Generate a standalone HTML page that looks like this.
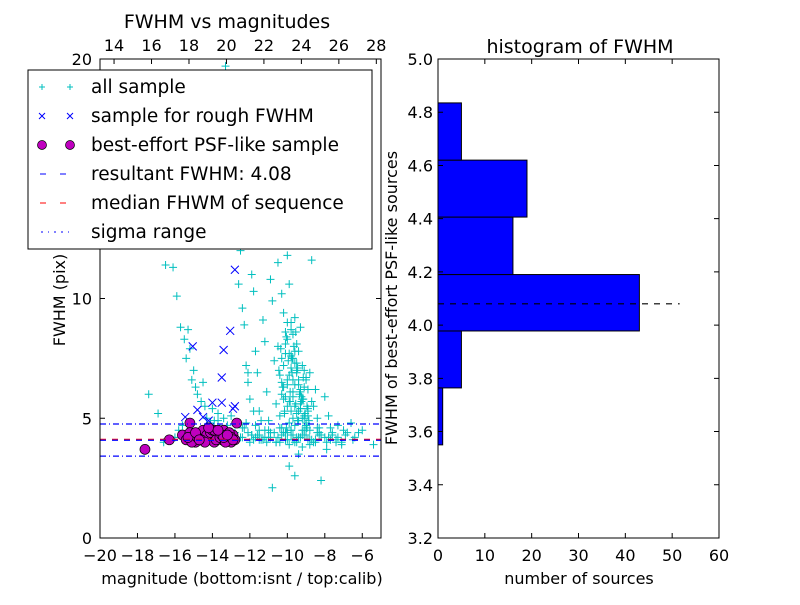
<!DOCTYPE html>
<html><head><meta charset="utf-8"><style>
body{margin:0;background:#fff}
svg{font-family:"DejaVu Sans","Liberation Sans",sans-serif}
</style></head><body>
<svg id="c" width="800" height="600" xmlns="http://www.w3.org/2000/svg"></svg>
<script>
// ---------- left scatter data (magnitude, FWHM) ----------
const allMag = [-17.4,-16.9,-16.5,-16.1,-15.9,-15.7,-15.5,-15.4,-15.3,-15.2,-15.1,-15.0,-14.9,-14.8,-14.6,-14.5,-14.4,-14.3,-14.1,-14.0,-13.9,-13.7,-13.6,-13.4,-13.2,-13.0,-12.8,-12.6,-12.5,-12.4,-12.3,-12.2,-12.1,-12.0,-11.9,-11.8,-11.7,-11.6,-11.5,-11.4,-11.3,-11.2,-11.1,-11.0,-10.9,-10.8,-10.7,-10.6,-10.5,-10.5,-10.4,-10.4,-10.3,-10.3,-10.2,-10.2,-10.1,-10.1,-10.0,-10.0,-10.0,-9.9,-9.9,-9.9,-9.8,-9.8,-9.8,-9.7,-9.7,-9.7,-9.6,-9.6,-9.6,-9.5,-9.5,-9.5,-9.4,-9.4,-9.4,-9.3,-9.3,-9.3,-9.2,-9.2,-9.1,-9.1,-9.0,-9.0,-8.9,-8.9,-8.8,-8.7,-8.6,-8.5,-8.4,-8.3,-8.2,-8.0,-7.8,-7.6,-7.3,-7.0,-6.6,-6.2,-5.4,
-16.6,-16.0,-15.8,-15.6,-15.4,-15.1,-14.7,-14.2,-13.8,-13.5,-13.1,-12.7,-12.4,-12.0,-11.6,-11.3,-11.0,-10.7,-10.4,-10.1,-9.8,-9.5,-9.2,-8.9,-8.6,-8.3,-8.0,-7.7,-7.4,-7.1,-6.8,-6.4,-6.0,-11.9,-11.5,-11.2,-10.9,-10.6,-10.3,-10.0,-9.7,-9.4,-9.1,-8.8,-8.5,-10.2,-9.9,-9.6,-9.3,-9.0,-10.1,-9.8,-9.5,-9.2,-12.2,-11.8,-11.4,-13.3,-15.0,-14.4,-13.0,-12.5,-11.5,-10.8,-9.9,-9.6,-9.3,-10.0,-9.7,-9.4,-8.8,-8.4,-8.2,-7.9,-12.1,-11.7,-10.2,-9.1,-8.7,-13.7,
-10.4,-10.3,-10.2,-10.1,-10.0,-9.9,-9.8,-9.7,-9.6,-9.5,-9.4,-9.3,-9.2,-9.1,-9.0,-8.9,-10.35,-10.25,-10.15,-10.05,-9.95,-9.85,-9.75,-9.65,-9.55,-9.45,-9.35,-9.25,-9.15,-9.05,-8.95,-8.85,-10.3,-10.1,-9.9,-9.7,-9.5,-9.3,-9.1,-8.9,-10.2,-10.0,-9.8,-9.6,-9.4,-9.2,-9.0,-10.45,-10.15,-9.85,-9.55,-9.25,-8.95,-10.05,-9.75,-9.45,-9.15,
-12.4,-12.1,-11.8,-11.5,-11.2,-10.9,-10.6,-10.3,-10.0,-9.7,-9.4,-9.1,-8.8,-8.5,-8.2,-7.9,-7.6,-7.3,-12.3,-11.9,-11.4,-11.0,-10.5,-10.1,-9.6,-9.2,-8.7,-8.3,-7.8,-7.4,-6.9,-6.5,-11.7,-11.1,-10.4,-9.8,-9.0,-8.4,-7.7,-7.1];
const allFwhm = [6.0,5.2,11.4,11.3,10.1,8.8,8.3,7.5,8.7,7.9,6.6,7.0,6.3,6.0,5.7,6.5,5.5,5.0,4.8,5.4,4.9,5.2,4.6,5.0,4.7,5.1,4.4,10.6,12.0,9.6,8.9,7.2,6.5,5.8,11.0,10.3,7.8,6.9,5.3,12.3,9.1,8.2,6.1,4.9,10.8,9.9,7.4,5.6,11.5,8.0,12.6,6.8,10.2,7.5,9.4,6.3,8.6,5.9,11.8,8.3,6.6,10.6,7.7,5.7,9.0,7.1,5.3,8.5,6.6,5.0,9.2,7.3,5.5,8.1,6.9,5.2,7.8,6.4,4.9,8.8,6.1,5.4,7.2,5.8,7.0,5.1,6.7,4.8,6.2,5.3,6.9,5.7,5.5,6.2,5.0,4.6,4.3,5.9,5.1,4.3,4.7,4.5,4.8,4.4,3.9,
4.0,4.2,4.5,4.7,4.3,4.1,4.4,4.2,4.5,4.3,4.1,4.2,4.6,4.0,4.3,4.1,4.2,4.4,4.0,4.1,4.3,4.2,4.5,4.1,4.0,4.3,4.2,4.6,4.1,3.9,4.4,4.2,4.5,4.3,4.1,4.2,4.4,4.0,4.6,4.1,4.3,4.2,4.5,4.1,4.0,4.4,3.9,4.7,4.2,4.3,4.1,4.5,4.0,3.8,4.8,5.3,4.9,19.7,4.4,4.0,4.3,4.2,4.5,2.1,3.0,2.6,5.6,6.4,7.5,3.5,3.9,4.4,2.4,3.7,6.9,4.2,13.1,12.5,11.6,4.9,
5.1,6.0,7.2,8.1,5.5,6.8,7.6,5.9,6.4,7.0,5.3,6.2,5.8,5.0,6.6,5.4,7.9,6.3,5.2,8.4,7.4,5.7,6.9,8.0,5.6,7.1,6.0,5.9,6.7,5.2,5.5,4.9,6.5,7.7,4.8,6.1,7.3,5.4,6.3,5.1,5.8,9.0,8.7,7.8,6.6,5.0,4.7,7.0,5.3,6.1,8.6,5.7,4.6,4.6,7.5,4.9,5.8,
4.2,4.4,4.1,4.3,4.5,4.2,4.0,4.3,4.4,4.1,4.2,4.3,4.5,4.1,4.3,4.0,4.4,4.2,4.6,4.3,4.1,4.5,4.2,4.4,4.0,4.3,4.1,4.4,4.2,4.0,4.3,4.1,4.7,4.0,4.6,4.5,4.7,4.6,4.1,4.0];
const roughMag = [-12.8,-13.05,-13.4,-15.05,-13.5,-14.0,-13.5,-12.9,-14.8,-14.5,-15.45,-14.2,-12.8];
const roughFwhm = [11.2,8.65,7.85,8.0,6.7,5.65,5.65,5.4,5.35,5.05,5.05,4.9,5.5];
const psfMag = [-17.6,-16.3,-15.2,-12.7,-15.6,-15.4,-15.2,-15.0,-14.9,-14.7,-14.5,-14.4,-14.2,-14.0,-13.9,-13.7,-13.5,-13.4,-13.2,-13.0,-12.9,-12.8,-15.1,-14.8,-14.3,-14.1,-13.8,-13.6,-13.3,-13.1,-14.6,-14.0,-13.5,-13.0,-15.3,-14.9,-14.4,-13.9,-13.4,-12.9,-14.2,-13.7,-14.7,-13.2];
const psfFwhm = [3.7,4.1,4.8,4.8,4.3,4.1,4.4,4.2,4.0,4.3,4.5,4.1,4.2,4.4,4.0,4.3,4.1,4.5,4.2,4.0,4.3,4.1,4.0,4.2,4.3,4.4,4.1,4.2,4.0,4.4,4.1,4.5,4.3,4.2,4.2,4.4,4.0,4.5,4.2,4.1,4.6,4.5,4.1,4.3];
const resultFwhm = 4.08, medianFwhm = 4.12, sigmaLo = 3.42, sigmaHi = 4.76;
const leftXTicks = [-20,-18,-16,-14,-12,-10,-8,-6];
const leftYTicks = [0,5,10,20];
const topTicks = [14,16,18,20,22,24,26,28];
// ---------- histogram data ----------
const binEdges = [3.55,3.764,3.978,4.19,4.406,4.62,4.835];
const binCounts = [1,5,43,16,19,5];
const histYTicks = ["3.2","3.4","3.6","3.8","4.0","4.2","4.4","4.6","4.8","5.0"];
const histXTicks = [0,10,20,30,40,50,60];
const histDashEnd = 51.6;

const svg = document.getElementById('c');
const NS = 'http://www.w3.org/2000/svg';
function mk(tag, attrs, parent){const e=document.createElementNS(NS,tag);for(const k in attrs)e.setAttribute(k,attrs[k]);(parent||svg).appendChild(e);return e;}
function txt(s,x,y,size,anchor,parent,rot){const t=mk('text',{x:x,y:y,'font-size':size,'text-anchor':anchor||'middle',fill:'#000'},parent);if(rot)t.setAttribute('transform','rotate(-90 '+x+' '+y+')');t.textContent=s;return t;}
const minus = v => String(v).replace('-','\u2212');

// left axes
const L={x0:100,x1:381,y0:59,y1:538};
const lx = m => L.x0 + (m+20)/15*(L.x1-L.x0);
const ly = f => L.y1 - f/20*(L.y1-L.y0);
const tx = v => L.x0 + (v-13.25)/15*(L.x1-L.x0);
const gL = mk('g',{});  
mk('rect',{x:L.x0,y:L.y0,width:L.x1-L.x0,height:L.y1-L.y0,fill:'#fff'},gL);
const clip = mk('clipPath',{id:'lc'},gL); mk('rect',{x:L.x0,y:L.y0,width:L.x1-L.x0,height:L.y1-L.y0},clip);
const pts = mk('g',{'clip-path':'url(#lc)'},gL);
 
for(let i=0;i<allMag.length;i++){const x=lx(allMag[i]),y=ly(allFwhm[i]);
  const p=mk('path',{d:`M${x-4} ${y}h8M${x} ${y-4}v8`,stroke:'#00bfbf','stroke-width':1},pts);
  }
for(let i=0;i<roughMag.length;i++){const x=lx(roughMag[i]),y=ly(roughFwhm[i]);
  const p=mk('path',{d:`M${x-4} ${y-4}l8 8M${x-4} ${y+4}l8 -8`,stroke:'#0000ff','stroke-width':1},pts);
  }
for(let i=0;i<psfMag.length;i++){
  const c=mk('circle',{cx:lx(psfMag[i]),cy:ly(psfFwhm[i]),r:5,fill:'#bf00bf',stroke:'#000','stroke-width':0.7},pts);
  }
const hl=(v,col,dash,name)=>{const l=mk('line',{x1:L.x0,x2:L.x1,y1:ly(v),y2:ly(v),stroke:col,'stroke-width':1.2,'stroke-dasharray':dash},pts);};
hl(medianFwhm,'#ff0000','6 6','median-line');
hl(resultFwhm,'#0000ff','6 6','result-line');
hl(sigmaHi,'#0000ff','6 3 1 3','sigma-high-line');
hl(sigmaLo,'#0000ff','6 3 1 3','sigma-low-line');
mk('rect',{x:L.x0,y:L.y0,width:L.x1-L.x0,height:L.y1-L.y0,fill:'none',stroke:'#000','stroke-width':1},gL);
leftXTicks.forEach(v=>{const x=lx(v);mk('path',{d:`M${x} ${L.y1}v-5`,stroke:'#000'},gL);txt(minus(v),x,561,16,'middle',gL);});
leftYTicks.forEach(v=>{const y=ly(v);mk('path',{d:`M${L.x0} ${y}h5M${L.x1} ${y}h-5`,stroke:'#000'},gL);txt(String(v),L.x0-8,y+6,16,'end',gL);});
topTicks.forEach(v=>{const x=tx(v);mk('path',{d:`M${x} ${L.y0}v5`,stroke:'#000'},gL);txt(String(v),x,51,16,'middle',gL);});
txt('FWHM vs magnitudes',227,28,19,'middle',gL);
txt('magnitude (bottom:isnt / top:calib)',242,584,16,'middle',gL);
txt('FWHM (pix)',65,300,16,'middle',gL,true);

// legend
const lg = mk('g',{});  
mk('rect',{x:28,y:70,width:344,height:179,fill:'#fff',stroke:'#000','stroke-width':1},lg);
const items=['all sample','sample for rough FWHM','best-effort PSF-like sample','resultant FWHM: 4.08','median FHWM of sequence','sigma range'];
items.forEach((s,i)=>{const y=87+i*29;const g=mk('g',{},lg);
  const a=42,b=70;
  if(i==0)[a,b].forEach(x=>mk('path',{d:`M${x-3} ${y}h6M${x} ${y-3}v6`,stroke:'#00bfbf'},g));
  if(i==1)[a,b].forEach(x=>mk('path',{d:`M${x-3} ${y-3}l6 6M${x-3} ${y+3}l6 -6`,stroke:'#0000ff'},g));
  if(i==2)[a,b].forEach(x=>mk('circle',{cx:x,cy:y,r:4.5,fill:'#bf00bf',stroke:'#000','stroke-width':0.7},g));
  if(i==3)mk('line',{x1:40,x2:72,y1:y,y2:y,stroke:'#0000ff','stroke-dasharray':'6 14 6'},g);
  if(i==4)mk('line',{x1:40,x2:72,y1:y,y2:y,stroke:'#ff0000','stroke-dasharray':'6 14 6'},g);
  if(i==5)mk('line',{x1:41,x2:72,y1:y,y2:y,stroke:'#0000ff','stroke-dasharray':'2 5 1 5 2 5'},g);
  txt(s,91,y+6,18.5,'start',g);});

// histogram
const R={x0:438,x1:719,y0:59,y1:538};
const hx = c => R.x0 + c/60*(R.x1-R.x0);
const hy = v => R.y1 - (v-3.2)/1.8*(R.y1-R.y0);
const gR = mk('g',{});  
mk('rect',{x:R.x0,y:R.y0,width:R.x1-R.x0,height:R.y1-R.y0,fill:'#fff'},gR);
binCounts.forEach((c,i)=>{const r=mk('rect',{x:hx(0),y:hy(binEdges[i+1]),width:hx(c)-hx(0),height:hy(binEdges[i])-hy(binEdges[i+1]),fill:'#0000ff',stroke:'#000','stroke-width':1},gR);
  });
const dl=mk('line',{x1:hx(0),x2:hx(histDashEnd),y1:hy(resultFwhm),y2:hy(resultFwhm),stroke:'#000','stroke-width':1.2,'stroke-dasharray':'6 6'},gR);

mk('rect',{x:R.x0,y:R.y0,width:R.x1-R.x0,height:R.y1-R.y0,fill:'none',stroke:'#000','stroke-width':1},gR);
histXTicks.forEach(v=>{const x=hx(v);mk('path',{d:`M${x} ${R.y1}v-5M${x} ${R.y0}v5`,stroke:'#000'},gR);txt(String(v),x,561,16,'middle',gR);});
histYTicks.forEach(s=>{const y=hy(parseFloat(s));mk('path',{d:`M${R.x0} ${y}h5M${R.x1} ${y}h-5`,stroke:'#000'},gR);txt(s,R.x0-5,y+6,16,'end',gR);});
txt('histogram of FWHM',580,53,19,'middle',gR);
txt('number of sources',579,584,16,'middle',gR);
txt('FWHM of best-effort PSF-like sources',397,298,16,'middle',gR,true);
</script>
</body></html>
